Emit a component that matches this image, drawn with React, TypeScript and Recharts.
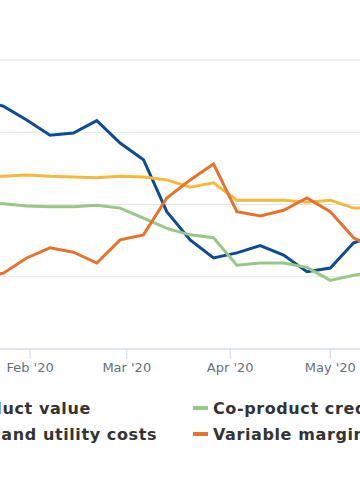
import React from "react";
import { LineChart, Line, XAxis, YAxis, CartesianGrid } from "recharts";

// day of year 2020 (Jan 1 = 0), weekly Fridays
const DAYS = [16, 23, 30, 37, 44, 51, 58, 65, 72, 79, 86, 93, 100, 107, 114, 121, 128, 135];

const productValue = [3.45, 3.36, 3.17, 2.96, 2.99, 3.16, 2.85, 2.62, 1.9, 1.51, 1.26, 1.33, 1.43, 1.3, 1.07, 1.12, 1.47, 1.58];
const coProductCredit = [2.02, 2.01, 1.98, 1.97, 1.97, 1.99, 1.95, 1.81, 1.67, 1.58, 1.54, 1.16, 1.19, 1.19, 1.13, 0.95, 1.02, 1.07];
const feedstockCosts = [2.39, 2.39, 2.41, 2.39, 2.38, 2.37, 2.39, 2.38, 2.34, 2.24, 2.3, 2.06, 2.06, 2.06, 2.03, 2.06, 1.95, 1.95];
const variableMargin = [0.98, 1.05, 1.26, 1.4, 1.34, 1.19, 1.51, 1.58, 2.09, 2.34, 2.56, 1.9, 1.84, 1.92, 2.09, 1.9, 1.54, 1.37];

const MONTH_TICKS = [31, 60, 91, 121];
const MONTH_LABELS = ["Feb '20", "Mar '20", "Apr '20", "May '20"];

const Y_TICKS = [0, 1, 2, 3, 4];

// legend order: left row 1, right row 1, left row 2, right row 2
const SERIES = [
    { key: "product", name: "Gross product value", color: "#0d4b93", values: productValue },
    { key: "coproduct", name: "Co-product credit", color: "#97c884", values: coProductCredit },
    { key: "costs", name: "Feedstock and utility costs", color: "#f5b93c", values: feedstockCosts },
    { key: "margin", name: "Variable margin", color: "#e8712b", values: variableMargin },
];

const data = DAYS.map((day, i) => {
    const row: { [key: string]: number } = { day };
    SERIES.forEach((s) => {
        row[s.key] = s.values[i];
    });
    return row;
});

const LEGEND_COLS = [-122, 193];
const LEGEND_ROWS = [408, 434];

const App: React.FC = () => {
    return (
        <div style={{ position: "absolute", left: 0, top: 0, width: 360, height: 504, overflow: "hidden", background: "#fff" }}>
            <div style={{ position: "absolute", left: -20, top: 0 }}>
                <LineChart width={397} height={380} data={data} margin={{ top: 60, right: 0, bottom: 0, left: 0 }}>
                    <CartesianGrid vertical={false} stroke="#e6e6e6" />
                    <XAxis
                        dataKey="day"
                        type="number"
                        domain={[16, 135]}
                        ticks={MONTH_TICKS}
                        tickFormatter={(v: number) => MONTH_LABELS[MONTH_TICKS.indexOf(v)]}
                        height={31}
                        tickSize={10}
                        tickMargin={4}
                        stroke="#ccd6eb"
                        tick={{ fill: "#65717e", fontSize: 13, fontFamily: "DejaVu Sans" }}
                        allowDataOverflow
                    />
                    <YAxis hide domain={[0, 4]} ticks={Y_TICKS} width={0} />
                    {SERIES.map((s) => (
                        <Line
                            key={s.key}
                            dataKey={s.key}
                            name={s.name}
                            stroke={s.color}
                            strokeWidth={3}
                            dot={false}
                            type="linear"
                            isAnimationActive={false}
                        />
                    ))}
                </LineChart>
            </div>
            {SERIES.map((s, i) => (
                <div
                    key={`legend-${i}`}
                    style={{
                        position: "absolute",
                        left: LEGEND_COLS[i % 2],
                        top: LEGEND_ROWS[Math.floor(i / 2)] - 10,
                        height: 20,
                        display: "flex",
                        alignItems: "center",
                        whiteSpace: "nowrap",
                        fontFamily: "DejaVu Sans",
                        fontWeight: "bold",
                        fontSize: 16,
                        letterSpacing: 0.6,
                        color: "#333333",
                    }}
                >
                    <div style={{ width: 15, height: 4, backgroundColor: s.color, marginRight: 5 }}></div>
                    <span>{s.name}</span>
                </div>
            ))}
        </div>
    );
};

export default App;
